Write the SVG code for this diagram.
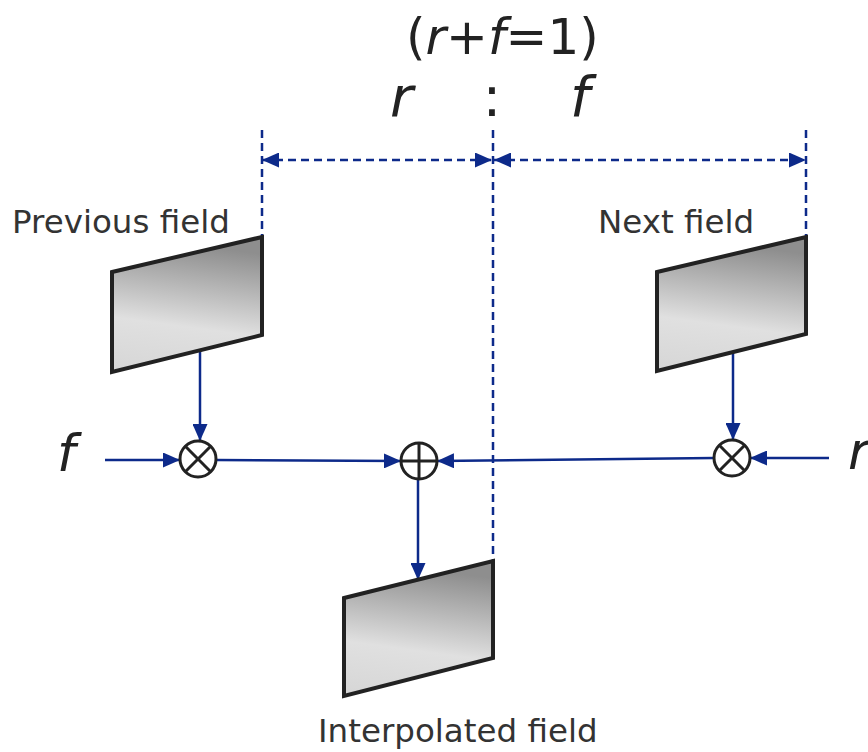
<svg xmlns="http://www.w3.org/2000/svg" width="868" height="752" viewBox="0 0 868 752">
<defs>
<linearGradient id="g" x1="0.15" y1="0" x2="0" y2="1">
<stop offset="0" stop-color="#8e8e8e"/>
<stop offset="0.6" stop-color="#e0e0e0"/>
<stop offset="1" stop-color="#d6d6d6"/>
</linearGradient>
<marker id="ah" viewBox="0 0 17 15" refX="17" refY="7.5" markerWidth="17" markerHeight="15" markerUnits="userSpaceOnUse" orient="auto-start-reverse">
<path d="M0,0 L17,7.5 L0,15 z" fill="#0d2a8a"/>
</marker>
</defs>
<style>
.fld{fill:url(#g);stroke:#222;stroke-width:4;stroke-linejoin:miter}
.op{fill:#fff;stroke:#222;stroke-width:3}
.opl{stroke:#222;stroke-width:3}
.ln{stroke:#0d2a8a;stroke-width:2.5;fill:none}
.dl{stroke:#0d2a8a;stroke-width:2.5;fill:none;stroke-dasharray:8 5}
.lbl{font-family:"DejaVu Sans",Verdana,sans-serif;font-size:32.5px;fill:#333}
.var{font-family:"DejaVu Sans",Verdana,sans-serif;font-style:italic;fill:#222}
.eq{font-family:"DejaVu Sans",Verdana,sans-serif;fill:#222}
</style>

<g id="connectors">
<line class="dl" x1="262" y1="130" x2="262" y2="237"/>
<line class="dl" x1="493" y1="130" x2="493" y2="561"/>
<line class="dl" x1="806" y1="130" x2="806" y2="237"/>
<line class="dl" x1="262" y1="160" x2="492" y2="160" marker-start="url(#ah)" marker-end="url(#ah)"/>
<line class="dl" x1="494" y1="160" x2="806" y2="160" marker-start="url(#ah)" marker-end="url(#ah)"/>
<line class="ln" x1="200" y1="350" x2="200" y2="441" marker-end="url(#ah)"/>
<line class="ln" x1="733" y1="352" x2="733" y2="440" marker-end="url(#ah)"/>
<line class="ln" x1="105" y1="460" x2="180" y2="460" marker-end="url(#ah)"/>
<line class="ln" x1="216" y1="460" x2="401" y2="461" marker-end="url(#ah)"/>
<line class="ln" x1="714" y1="458" x2="437" y2="461" marker-end="url(#ah)"/>
<line class="ln" x1="829" y1="458" x2="750" y2="458" marker-end="url(#ah)"/>
<line class="ln" x1="418" y1="479" x2="418" y2="580" marker-end="url(#ah)"/>
</g>

<g id="previous-field">
<polygon class="fld" points="112,272 262,237 262,335 112,372"/>
<text class="lbl" x="12" y="233">Previous field</text>
</g>

<g id="next-field">
<polygon class="fld" points="657,272 806,237 806,334 657,371"/>
<text class="lbl" x="598" y="233">Next field</text>
</g>

<g id="interpolated-field">
<polygon class="fld" points="344,598 493,561 493,658 344,696"/>
<text class="lbl" x="318" y="742">Interpolated field</text>
</g>

<g id="mult-left">
<circle class="op" cx="198" cy="459" r="18"/>
<line class="opl" x1="185.3" y1="446.3" x2="210.7" y2="471.7"/>
<line class="opl" x1="210.7" y1="446.3" x2="185.3" y2="471.7"/>
</g>

<g id="sum">
<circle class="op" cx="419" cy="461" r="18"/>
<line class="opl" x1="401" y1="461" x2="437" y2="461"/>
<line class="opl" x1="419" y1="443" x2="419" y2="479"/>
</g>

<g id="mult-right">
<circle class="op" cx="732" cy="458" r="18"/>
<line class="opl" x1="719.3" y1="445.3" x2="744.7" y2="470.7"/>
<line class="opl" x1="744.7" y1="445.3" x2="719.3" y2="470.7"/>
</g>

<g id="labels">
<text class="var" x="57" y="471" font-size="52">f</text>
<text class="var" x="848" y="469" font-size="52">r</text>
<text class="eq" x="406" y="54" font-size="50">(<tspan font-style="italic">r</tspan>+<tspan font-style="italic">f</tspan>=1)</text>
<text class="var" x="390" y="116" font-size="56">r</text>
<text class="eq" x="492" y="116" font-size="56" text-anchor="middle">:</text>
<text class="var" x="570" y="116" font-size="56">f</text>
</g>
</svg>
